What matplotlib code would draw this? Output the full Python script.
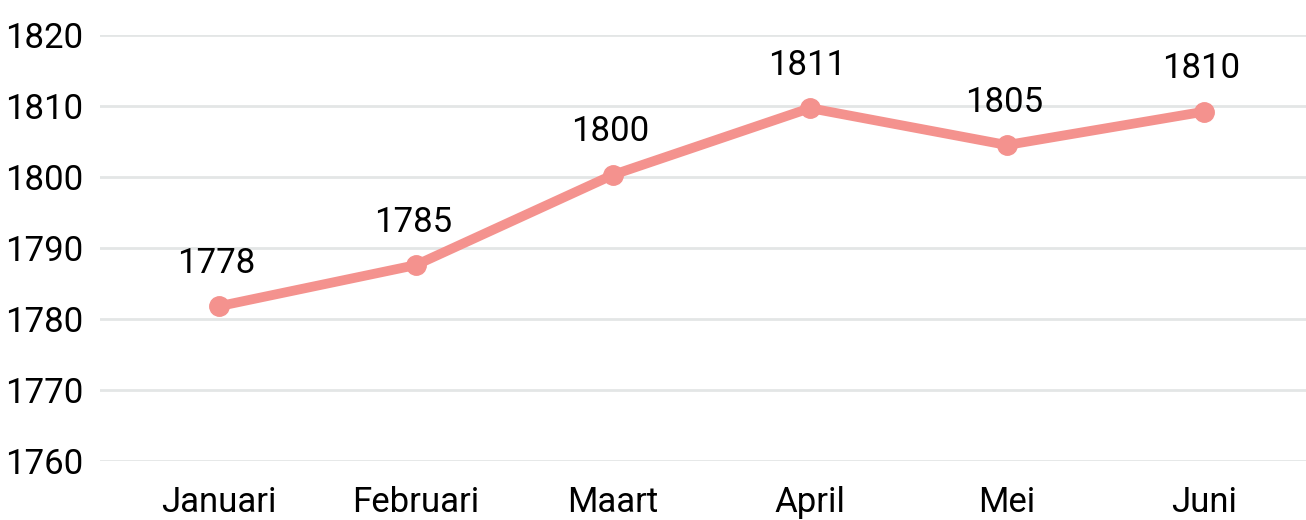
import matplotlib.pyplot as plt

# Data
months = ['Januari', 'Februari', 'Maart', 'April', 'Mei', 'Juni']
values = [1781.8, 1787.6, 1800.3, 1809.7, 1804.5, 1809.2]
labels = ['1778', '1785', '1800', '1811', '1805', '1810']
yticks = [1760, 1770, 1780, 1790, 1800, 1810, 1820]

plt.rcParams['font.family'] = ['Roboto', 'DejaVu Sans']

fig = plt.figure(figsize=(13.06, 5.2), dpi=100)
ax = fig.add_axes([100 / 1306, 59 / 520, 1206 / 1306, 426 / 520])

x = list(range(len(months)))
ax.plot(x, values, color='#f4928e', linewidth=7, marker='o', markersize=14,
        solid_capstyle='round', clip_on=False, zorder=3)

for xi, v, lab in zip(x, values, labels):
    ax.annotate(lab, (xi, v), xytext=(-2, 19), textcoords='offset points',
                ha='center', va='bottom', fontsize=25, color='#000000')

ax.set_xlim(-0.604, 5.518)
ax.set_ylim(1760, 1820)
ax.set_yticks(yticks)
ax.set_xticks(x)
ax.set_xticklabels(months)
ax.tick_params(axis='both', length=0, labelsize=25, colors='#000000')
ax.tick_params(axis='x', pad=18)
ax.tick_params(axis='y', pad=12)
ax.grid(axis='y', color='#e3e6e6', linewidth=2)
ax.set_axisbelow(True)
for s in ax.spines.values():
    s.set_visible(False)

plt.savefig('out.png', dpi=100)
